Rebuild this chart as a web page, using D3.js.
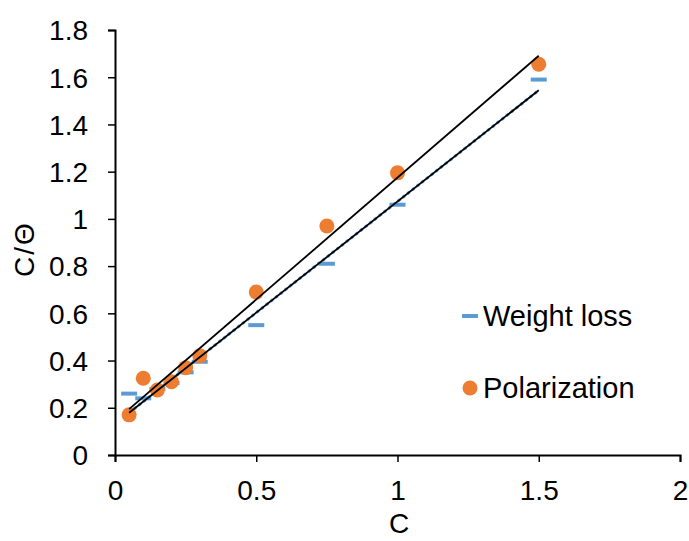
<!DOCTYPE html>
<html>
<head>
<meta charset="utf-8">
<script src="https://cdn.jsdelivr.net/npm/d3@7"></script>
<style>
  html, body { margin: 0; padding: 0; background: #fff; }
  svg { display: block; font-family: Arial, "Liberation Sans", sans-serif; }
</style>
</head>
<body>
<svg id="chart" width="689" height="541"></svg>
<script>
// Concentration values (x) shared by both series
const concentrations = [0.05, 0.1, 0.15, 0.2, 0.25, 0.3, 0.5, 0.75, 1.0, 1.5];
// C/θ from weight loss measurements
const weightLoss = [0.26, 0.24, 0.28, 0.305, 0.35, 0.395, 0.55, 0.81, 1.06, 1.59];
// C/θ from polarization measurements
const polarization = [0.17, 0.325, 0.275, 0.31, 0.37, 0.42, 0.69, 0.97, 1.195, 1.655];
const xTicks = [0, 0.5, 1, 1.5, 2];
const yTicks = [0, 0.2, 0.4, 0.6, 0.8, 1, 1.2, 1.4, 1.6, 1.8];
const seriesNames = ["Weight loss", "Polarization"];

const BLUE = "#5B9BD5", ORANGE = "#ED7D31";

const svg = d3.select("#chart");
const x = d3.scaleLinear().domain([0, 2]).range([115, 680]);
const y = d3.scaleLinear().domain([0, 1.8]).range([455, 30]);

// least-squares fit
function fit(xs, ys) {
  const n = xs.length;
  const mx = d3.mean(xs), my = d3.mean(ys);
  let sxy = 0, sxx = 0;
  for (let i = 0; i < n; i++) {
    sxy += (xs[i] - mx) * (ys[i] - my);
    sxx += (xs[i] - mx) ** 2;
  }
  const m = sxy / sxx;
  return { m, b: my - m * mx };
}

// axes
const xAxis = d3.axisBottom(x).tickValues(xTicks).tickFormat(d3.format("~g")).tickSizeOuter(0).tickSize(7).tickPadding(18);
const yAxis = d3.axisLeft(y).tickValues(yTicks).tickFormat(d3.format("~g")).tickSizeOuter(0).tickSize(7).tickPadding(20);

const gx = svg.append("g").attr("transform", `translate(0,${y(0)})`).call(xAxis);
const gy = svg.append("g").attr("transform", `translate(${x(0)},0)`).call(yAxis);
[gx, gy].forEach(g => {
  g.attr("font-family", null);
  g.select(".domain").attr("stroke", "#000").attr("stroke-width", 2);
  g.selectAll(".tick line").attr("stroke", "#000").attr("stroke-width", 1.5);
  g.selectAll(".tick text").attr("fill", "#000").style("font-size", "28px");
});
gy.selectAll(".tick text").attr("dy", "0.35em");

// axis titles
svg.append("text").attr("x", 399).attr("y", 533).attr("text-anchor", "middle")
  .style("font-size", "28px").text("C");
svg.append("text").attr("transform", "translate(34,249) rotate(-90)")
  .attr("text-anchor", "middle").style("font-size", "28px")
  .style("letter-spacing", "2px").text("C/Θ");

const xMin = d3.min(concentrations), xMax = d3.max(concentrations);

// trend lines
const wl = fit(concentrations, weightLoss);
const po = fit(concentrations, polarization);

svg.append("line")
  .attr("x1", x(xMin)).attr("y1", y(wl.m * xMin + wl.b))
  .attr("x2", x(xMax)).attr("y2", y(wl.m * xMax + wl.b))
  .attr("stroke", BLUE).attr("stroke-width", 3).attr("stroke-dasharray", "3,3");

// markers
svg.append("g").selectAll("rect").data(concentrations).join("rect")
  .attr("x", d => x(d) - 8).attr("y", (d, i) => y(weightLoss[i]) - 2)
  .attr("width", 16).attr("height", 4).attr("fill", BLUE);

svg.append("g").selectAll("circle").data(concentrations).join("circle")
  .attr("cx", d => x(d)).attr("cy", (d, i) => y(polarization[i]))
  .attr("r", 7.5).attr("fill", ORANGE);

[wl, po].forEach(f => {
  svg.append("line")
    .attr("x1", x(xMin)).attr("y1", y(f.m * xMin + f.b))
    .attr("x2", x(xMax)).attr("y2", y(f.m * xMax + f.b))
    .attr("stroke", "#000").attr("stroke-width", 1.8);
});

// legend
const lg = svg.append("g");
lg.append("rect").attr("x", 462).attr("y", 314).attr("width", 16).attr("height", 4).attr("fill", BLUE);
lg.append("text").attr("x", 483).attr("y", 316).attr("dy", "0.35em").style("font-size", "29px").text(seriesNames[0]);
lg.append("circle").attr("cx", 470).attr("cy", 388).attr("r", 7.5).attr("fill", ORANGE);
lg.append("text").attr("x", 483).attr("y", 388).attr("dy", "0.35em").style("font-size", "29px").text(seriesNames[1]);
</script>
</body>
</html>
